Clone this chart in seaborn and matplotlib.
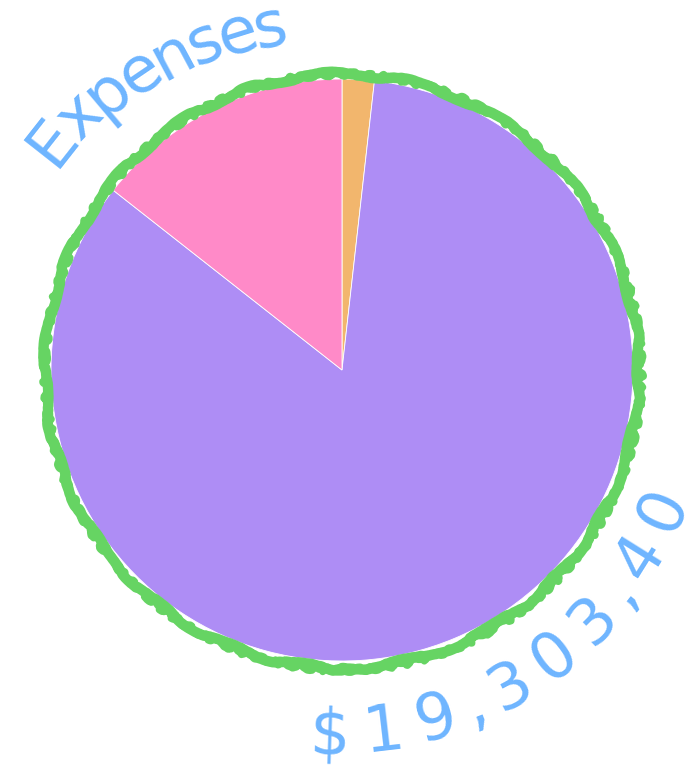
import numpy as np
import matplotlib
matplotlib.use("Agg")
import matplotlib.pyplot as plt
from matplotlib.patches import Circle
import seaborn as sns

# ---- data ----
categories = ["Supplies", "Payroll", "Marketing"]
amounts = [343400, 16180000, 2780000]
slice_colors = ["#F2B66D", "#AE8DF5", "#FF8AC8"]
title_text = "Expenses"
total_text = "$19,303,40"

sns.set_theme(style="white")
plt.rcParams["font.family"] = ["DejaVu Sans"]

W, H = 693, 773
fig = plt.figure(figsize=(W / 100, H / 100), dpi=100)
ax = fig.add_axes([0, 0, 1, 1])
ax.set_xlim(0, W)
ax.set_ylim(0, H)
ax.set_aspect("equal")
ax.axis("off")

cx, cy = 342, H - 370
R = 291
ax.pie(amounts, colors=slice_colors, startangle=90, counterclock=False,
       center=(cx, cy), radius=R, frame=True,
       wedgeprops=dict(edgecolor="white", linewidth=0.6))
ax.set_xlim(0, W)
ax.set_ylim(0, H)
ax.axis("off")

# hand-drawn ring: a smooth wobble plus a jagged overlay
green = "#66D463"
ring = Circle((cx, cy - 1), 297, fill=False, edgecolor=green,
              linewidth=7.5, capstyle="round", joinstyle="round")
ring.set_sketch_params(scale=2.5, length=160, randomness=8)
ax.add_patch(ring)
ring2 = Circle((cx + 1, cy - 2), 298, fill=False, edgecolor=green,
               linewidth=5, capstyle="round", joinstyle="round")
ring2.set_sketch_params(scale=2.5, length=25, randomness=6)
ax.add_patch(ring2)

blue = "#6EB5FF"
fs = 46
renderer = fig.canvas.get_renderer()


def char_widths(s):
    ws = []
    for ch in s:
        t = ax.text(0, 0, ch, fontsize=fs)
        bb = t.get_window_extent(renderer=renderer)
        ws.append(bb.width if ch != " " else fs * 0.3)
        t.remove()
    return np.array(ws)


def arc_text(s, a0, a1, r0, r1, outward_up):
    ws = char_widths(s)
    centers = np.cumsum(ws) - ws / 2
    frac = (centers - centers[0]) / (centers[-1] - centers[0])
    for ch, f in zip(s, frac):
        ang = np.deg2rad(a0 + (a1 - a0) * f)
        r = r0 + (r1 - r0) * f
        x = cx + r * np.cos(ang)
        y = cy + r * np.sin(ang)
        rot = np.rad2deg(ang) - 90 if outward_up else np.rad2deg(ang) + 90
        ax.text(x, y, ch, fontsize=fs, color=blue, rotation=rot,
                rotation_mode="anchor", ha="center", va="center")


arc_text(title_text, 141.8, 101.9, 368, 350, True)
arc_text(total_text, -91.9, -23.5, 366, 350, False)

fig.savefig("out.png", dpi=100, facecolor="white")
